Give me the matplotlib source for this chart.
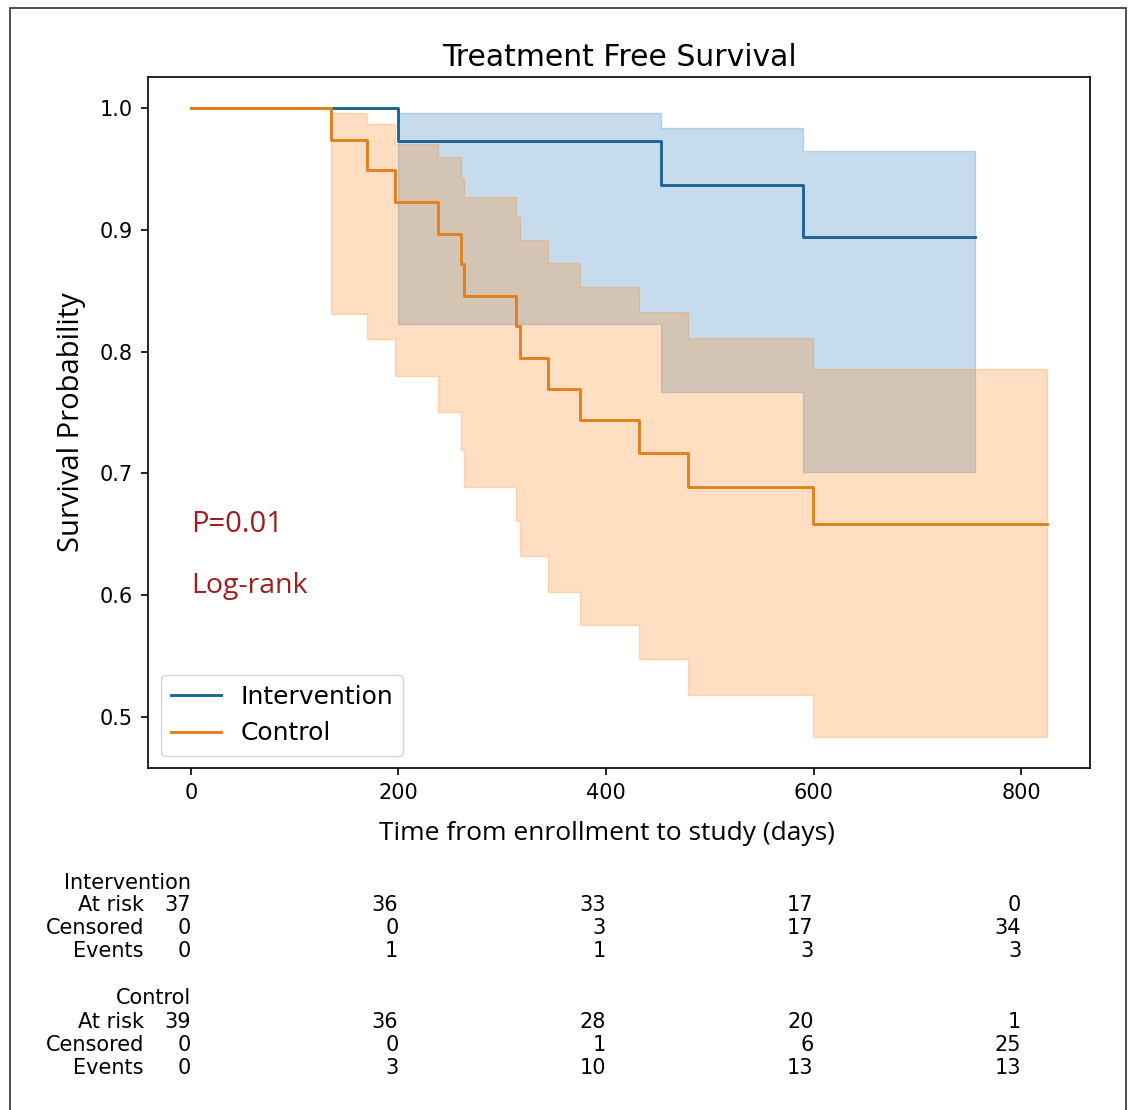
import matplotlib
matplotlib.use("Agg")
import matplotlib.pyplot as plt
import matplotlib.transforms as mtransforms
from matplotlib.patches import Rectangle

# ---------------- data ----------------
int_times = [0, 200, 453, 590, 755]
int_surv = [1.0, 0.973, 0.937, 0.894, 0.894]
int_ci_low = [1.0, 0.823, 0.767, 0.701, 0.701]
int_ci_up = [1.0, 0.996, 0.984, 0.965, 0.965]

ctl_times = [0, 135, 170, 197, 238.5, 260.5, 263, 313, 317.5, 344, 374.5, 432, 479, 599, 825]
ctl_surv = [1.0, 0.974, 0.949, 0.923, 0.897, 0.872, 0.846, 0.821, 0.795, 0.769, 0.744,
            0.717, 0.689, 0.658, 0.658]
ctl_ci_low = [1.0, 0.831, 0.810, 0.780, 0.750, 0.719, 0.689, 0.661, 0.632, 0.602, 0.575,
              0.547, 0.518, 0.4835, 0.4835]
ctl_ci_up = [1.0, 0.996, 0.987, 0.971, 0.960, 0.943, 0.9275, 0.9105, 0.892, 0.873, 0.853,
             0.833, 0.811, 0.786, 0.786]

group_names = ["Intervention", "Control"]
risk_ticks = [0, 200, 400, 600, 800]
row_names = ["At risk", "Censored", "Events"]
int_at_risk = [37, 36, 33, 17, 0]
int_censored = [0, 0, 3, 17, 34]
int_events = [0, 1, 1, 3, 3]
ctl_at_risk = [39, 36, 28, 20, 1]
ctl_censored = [0, 0, 1, 6, 25]
ctl_events = [0, 3, 10, 13, 13]

p_text = "P=0.01"
test_text = "Log-rank"

# ---------------- figure ----------------
W, H = 1130, 1110
fig = plt.figure(figsize=(W / 100, H / 100), dpi=100)
ax = fig.add_axes([148 / W, 1 - 768 / H, (1090 - 148) / W, (768 - 77) / H])

blue = "#1f77b4"
orange = "#ff7f0e"
line_blue = "#1d6494"
line_orange = "#e0801e"

for t, lo, up, col in [(int_times, int_ci_low, int_ci_up, blue),
                       (ctl_times, ctl_ci_low, ctl_ci_up, orange)]:
    ax.fill_between(t, lo, up, step="post", color=col, alpha=0.25, linewidth=1.0)

ax.plot(int_times, int_surv, drawstyle="steps-post", color=line_blue, lw=2.1,
        label=group_names[0])
ax.plot(ctl_times, ctl_surv, drawstyle="steps-post", color=line_orange, lw=2.1,
        label=group_names[1])

ax.set_xticks(risk_ticks)
ax.set_yticks([0.5, 0.6, 0.7, 0.8, 0.9, 1.0])
ax.tick_params(labelsize=15, length=5, width=1.2, pad=6)
for s in ax.spines.values():
    s.set_linewidth(1.2)

ax.set_title("Treatment Free Survival", fontsize=21.5, pad=8)
ax.set_xlabel("Time from enrollment to study (days)", fontsize=19,
              family=["Open Sans", "DejaVu Sans"])
ax.xaxis.set_label_coords(0.487, -0.076)
ax.set_ylabel("Survival Probability", fontsize=21,
              family=["Open Sans", "DejaVu Sans"])
ax.yaxis.set_label_coords(-0.066, 0.5)

ax.text(0, 0.658, p_text, color="#a11d1d", fontsize=21,
        family=["Open Sans", "DejaVu Sans"], va="center", ha="left")
ax.text(0, 0.607, test_text, color="#a11d1d", fontsize=20.5,
        family=["Open Sans", "DejaVu Sans"], va="center", ha="left")

ax.legend(loc="lower left", fontsize=18)

# ---------------- at-risk table ----------------
trans = mtransforms.blended_transform_factory(ax.transData, fig.transFigure)
label_trans = trans + mtransforms.ScaledTranslation(-0.47, 0, fig.dpi_scale_trans)

blocks = [
    (group_names[0], [int_at_risk, int_censored, int_events], [883, 905, 928, 951]),
    (group_names[1], [ctl_at_risk, ctl_censored, ctl_events], [998, 1022, 1045, 1068]),
]
fs_tab = 15
for name, rows, ys in blocks:
    ax.text(risk_ticks[0], 1 - ys[0] / H, name, transform=trans, ha="right",
            va="center", fontsize=fs_tab, clip_on=False)
    for rname, vals, yp in zip(row_names, rows, ys[1:]):
        ax.text(risk_ticks[0], 1 - yp / H, rname, transform=label_trans, ha="right",
                va="center", fontsize=fs_tab, clip_on=False)
        for x, v in zip(risk_ticks, vals):
            ax.text(x, 1 - yp / H, str(v), transform=trans, ha="right", va="center",
                    fontsize=fs_tab, clip_on=False)

# figure border
fig.patches.append(Rectangle((10 / W, -0.01), (1126 - 10) / W, 0.01 + 1 - 8 / H,
                             transform=fig.transFigure, fill=False,
                             edgecolor="#333333", linewidth=1.2))

fig.savefig("out.png", dpi=100)
